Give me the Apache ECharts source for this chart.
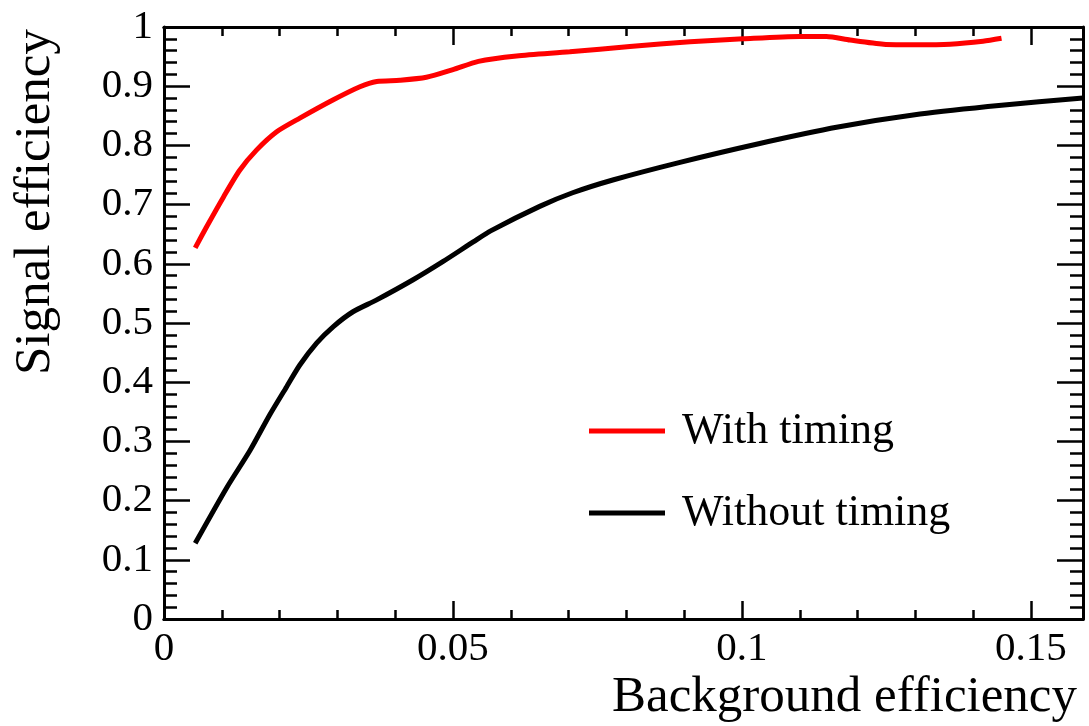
<!DOCTYPE html>
<html>
<head>
<meta charset="utf-8">
<script src="https://cdn.jsdelivr.net/npm/echarts@6/dist/echarts.min.js"></script>
<style>
  html, body { margin: 0; padding: 0; background: #fff; }
  #chart { width: 1089px; height: 726px; }
</style>
</head>
<body>
<div id="chart"></div>
<script>
// background efficiency (x) / signal efficiency (y)
const withTimingX = [0.0054, 0.0074, 0.0103, 0.0131, 0.016, 0.0195, 0.0235, 0.0293, 0.0339, 0.0368,
  0.0408, 0.0454, 0.05, 0.0544, 0.061, 0.0702, 0.0806, 0.091, 0.1002, 0.110,
  0.1146, 0.1187, 0.1245, 0.1302, 0.136, 0.1417, 0.1449]
const withTimingY = [0.627, 0.663, 0.713, 0.758, 0.792, 0.823, 0.846, 0.877, 0.899, 0.908,
  0.910, 0.915, 0.928, 0.942, 0.951, 0.958, 0.967, 0.975, 0.980, 0.984,
  0.984, 0.978, 0.971, 0.970, 0.971, 0.976, 0.981]

const withoutTimingX = [0.0054, 0.0108, 0.0149, 0.0183, 0.0212, 0.0235, 0.0264, 0.0293, 0.0327, 0.0368,
  0.0431, 0.0483, 0.0535, 0.0566, 0.065, 0.0707, 0.0778, 0.0891, 0.1025, 0.1166,
  0.1308, 0.1449, 0.159]
const withoutTimingY = [0.128, 0.221, 0.285, 0.345, 0.392, 0.429, 0.466, 0.494, 0.519, 0.539,
  0.573, 0.604, 0.637, 0.656, 0.697, 0.720, 0.742, 0.771, 0.802, 0.831,
  0.853, 0.868, 0.880]

const seriesNames = ['With timing', 'Without timing']
const xMin = 0, xMax = 0.159, xMajor = 0.05, xMinor = 0.01
const yMin = 0, yMax = 1, yMajor = 0.1

const FONT = "'Liberation Serif', 'DejaVu Serif', serif"
const pairs = (xs, ys) => xs.map((x, i) => [x, ys[i]])

function xAxisOf(position, interval, tickLen, showLabel) {
  return {
    type: 'value', position, min: xMin, max: xMax, interval,
    axisLine: { show: true, onZero: false, lineStyle: { color: '#000', width: 3 } },
    axisTick: { show: true, inside: true, length: tickLen, lineStyle: { color: '#000', width: 2.5 } },
    axisLabel: {
      show: showLabel, margin: 10, color: '#000', fontSize: 41, fontFamily: FONT,
      showMaxLabel: false
    },
    splitLine: { show: false }
  }
}

function yAxisOf(position, showLabel) {
  return {
    type: 'value', position, min: yMin, max: yMax, interval: yMajor,
    axisLine: { show: true, onZero: false, lineStyle: { color: '#000', width: 3 } },
    axisTick: { show: true, inside: true, length: 26, lineStyle: { color: '#000', width: 2.5 } },
    minorTick: { show: true, splitNumber: 5, length: 13, lineStyle: { color: '#000', width: 2.5 } },
    axisLabel: { show: showLabel, margin: 11, color: '#000', fontSize: 41, fontFamily: FONT },
    splitLine: { show: false },
    minorSplitLine: { show: false }
  }
}

const chart = echarts.init(document.getElementById('chart'), null, { renderer: 'canvas' })

chart.setOption({
  backgroundColor: '#fff',
  animation: false,
  grid: { left: 164, right: 6, top: 27, bottom: 107 },
  xAxis: [
    xAxisOf('bottom', xMajor, 18, true),
    xAxisOf('bottom', xMinor, 9, false),
    xAxisOf('top', xMajor, 18, false),
    xAxisOf('top', xMinor, 9, false)
  ],
  yAxis: [yAxisOf('left', true), yAxisOf('right', false)],
  legend: {
    orient: 'vertical', left: 589, top: 408, padding: 0,
    icon: 'rect', itemWidth: 76, itemHeight: 5, itemGap: 36,
    data: seriesNames,
    textStyle: { color: '#000', fontSize: 44, fontFamily: FONT, lineHeight: 44, padding: [2, 0, 0, 12] }
  },
  graphic: [
    {
      type: 'text', x: 1077, y: 698,
      style: { text: 'Background efficiency', fill: '#000', fontSize: 51, fontFamily: FONT, align: 'right', verticalAlign: 'middle' }
    },
    {
      type: 'text', x: 36, y: 29, rotation: Math.PI / 2,
      style: { text: 'Signal efficiency', fill: '#000', fontSize: 51, fontFamily: FONT, align: 'right', verticalAlign: 'middle' }
    }
  ],
  series: [
    {
      name: seriesNames[0], type: 'line', data: pairs(withTimingX, withTimingY),
      xAxisIndex: 0, yAxisIndex: 0, showSymbol: false, smooth: 0.25,
      color: '#ff0000', lineStyle: { color: '#ff0000', width: 5 }
    },
    {
      name: seriesNames[1], type: 'line', data: pairs(withoutTimingX, withoutTimingY),
      xAxisIndex: 0, yAxisIndex: 0, showSymbol: false, smooth: 0.25,
      color: '#000000', lineStyle: { color: '#000000', width: 5 }
    }
  ]
})
</script>
</body>
</html>
